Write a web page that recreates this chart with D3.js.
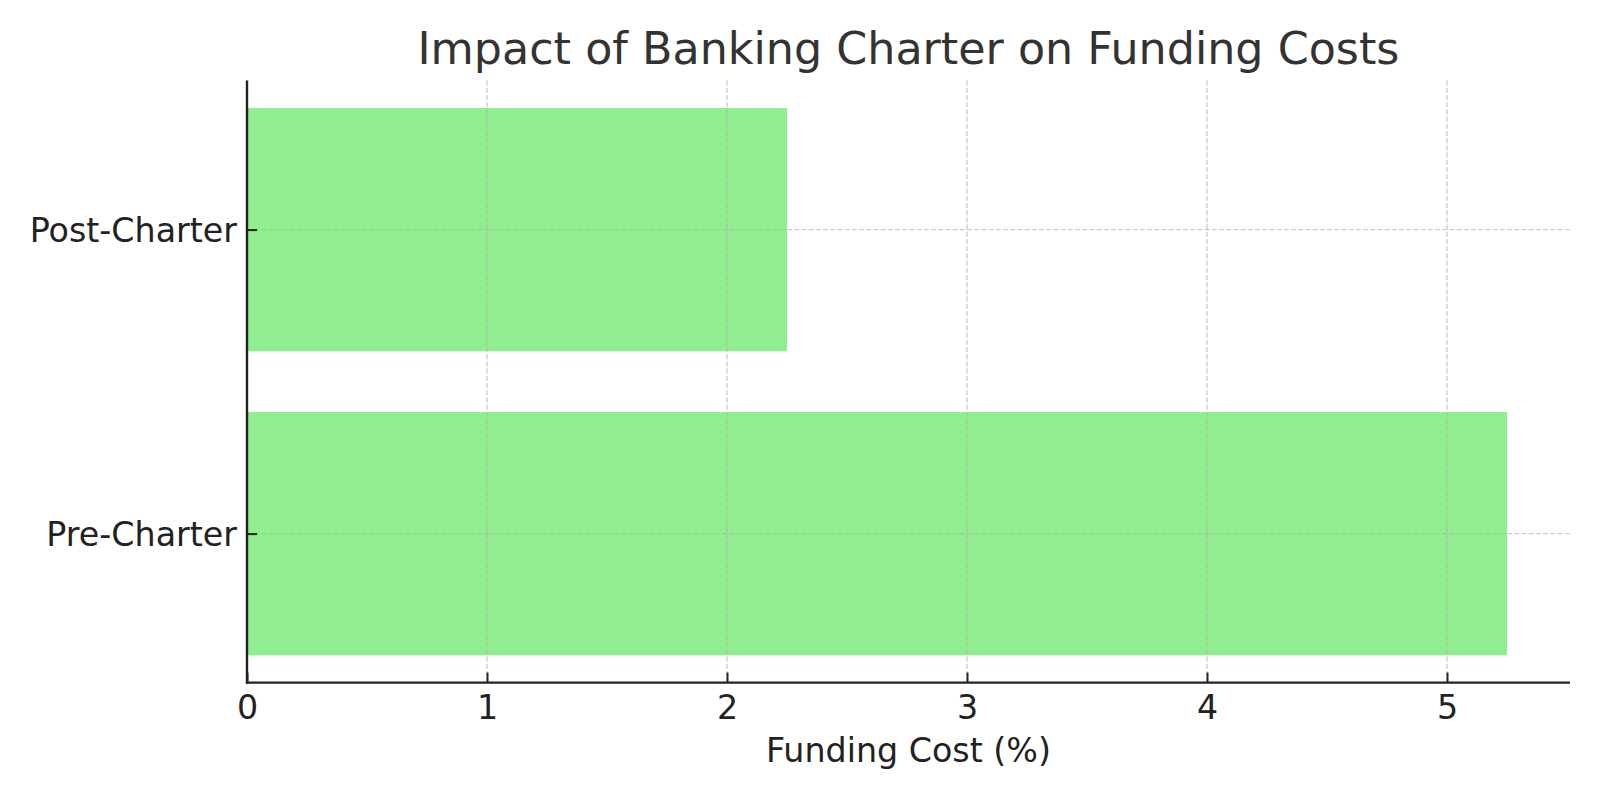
<!DOCTYPE html>
<html>
<head>
<meta charset="utf-8">
<script src="https://cdn.jsdelivr.net/npm/d3@7"></script>
<style>
  html, body { margin: 0; padding: 0; background: #fff; }
  svg { display: block; }
  text { font-family: "DejaVu Sans", sans-serif; }
</style>
</head>
<body>
<svg id="chart" width="1600" height="800"></svg>
<script>
// Data
const categories = ["Pre-Charter", "Post-Charter"];
const fundingCost = [5.25, 2.25];
const xTicks = [0, 1, 2, 3, 4, 5];
const titleText = "Impact of Banking Charter on Funding Costs";
const xLabelText = "Funding Cost (%)";

(function () {
const svg = d3.select("#chart");
const pLeft = 247, pRight = 1570, pTop = 80.6, pBottom = 682.6;

const xMax = d3.max(fundingCost) * 1.05;
const x = d3.scaleLinear().domain([0, xMax]).range([pLeft, pRight]);
const n = categories.length;
const barH = 0.8;
const yLo = -barH / 2, yHi = (n - 1) + barH / 2;
const pad = (yHi - yLo) * 0.05;
const y = d3.scaleLinear().domain([yLo - pad, yHi + pad]).range([pBottom, pTop]);

// Bars
svg.append("g").selectAll("rect")
  .data(categories)
  .join("rect")
  .attr("x", x(0))
  .attr("y", (d, i) => y(i + barH / 2))
  .attr("width", (d, i) => x(fundingCost[i]) - x(0))
  .attr("height", (d, i) => y(i - barH / 2) - y(i + barH / 2))
  .attr("fill", "#90ee90");

// Grid (drawn over bars)
const grid = svg.append("g")
  .attr("stroke", "#b0b0b0")
  .attr("stroke-opacity", 0.65)
  .attr("stroke-width", 1.4)
  .attr("stroke-dasharray", "5,2.2");
grid.selectAll("line.v").data(xTicks).join("line").attr("class", "v")
  .attr("x1", d => x(d)).attr("x2", d => x(d))
  .attr("y1", pTop).attr("y2", pBottom);
grid.selectAll("line.h").data(categories).join("line").attr("class", "h")
  .attr("x1", pLeft).attr("x2", pRight)
  .attr("y1", (d, i) => y(i)).attr("y2", (d, i) => y(i));

// X axis (ticks inward)
const xAxis = d3.axisBottom(x).tickValues(xTicks).tickFormat(d3.format("d"))
  .tickSizeInner(-10).tickSizeOuter(0).tickPadding(20);
const gx = svg.append("g").attr("transform", `translate(0,${pBottom})`).call(xAxis);
gx.select(".domain").remove();
gx.selectAll(".tick line").attr("stroke", "#222").attr("stroke-width", 2);
gx.selectAll(".tick text").attr("fill", "#222").attr("font-size", 33.3)
  .attr("font-family", "DejaVu Sans, sans-serif").attr("y", 0).attr("dy", "1.08em");

// Y axis (ticks inward)
const yAxis = d3.axisLeft(y).tickValues(d3.range(n)).tickFormat(i => categories[i])
  .tickSizeInner(-10).tickSizeOuter(0).tickPadding(20);
const gy = svg.append("g").attr("transform", `translate(${pLeft},0)`).call(yAxis);
gy.select(".domain").remove();
gy.selectAll(".tick line").attr("stroke", "#222").attr("stroke-width", 2);
gy.selectAll(".tick text").attr("fill", "#222").attr("font-size", 33.3)
  .attr("font-family", "DejaVu Sans, sans-serif").attr("x", -10).attr("dy", "0.36em");

// Spines
svg.append("line").attr("x1", pLeft).attr("x2", pLeft).attr("y1", pTop).attr("y2", pBottom + 1.2)
  .attr("stroke", "#222").attr("stroke-width", 2.4);
svg.append("line").attr("x1", pLeft - 1.2).attr("x2", pRight).attr("y1", pBottom).attr("y2", pBottom)
  .attr("stroke", "#222").attr("stroke-width", 2.4);

// Title
svg.append("text").attr("x", (pLeft + pRight) / 2).attr("y", 64)
  .attr("text-anchor", "middle").attr("font-size", 44.4).attr("fill", "#333")
  .text(titleText);

// X label
svg.append("text").attr("x", (pLeft + pRight) / 2).attr("y", 762)
  .attr("text-anchor", "middle").attr("font-size", 33.3).attr("fill", "#222")
  .text(xLabelText);
})();
</script>
</body>
</html>
